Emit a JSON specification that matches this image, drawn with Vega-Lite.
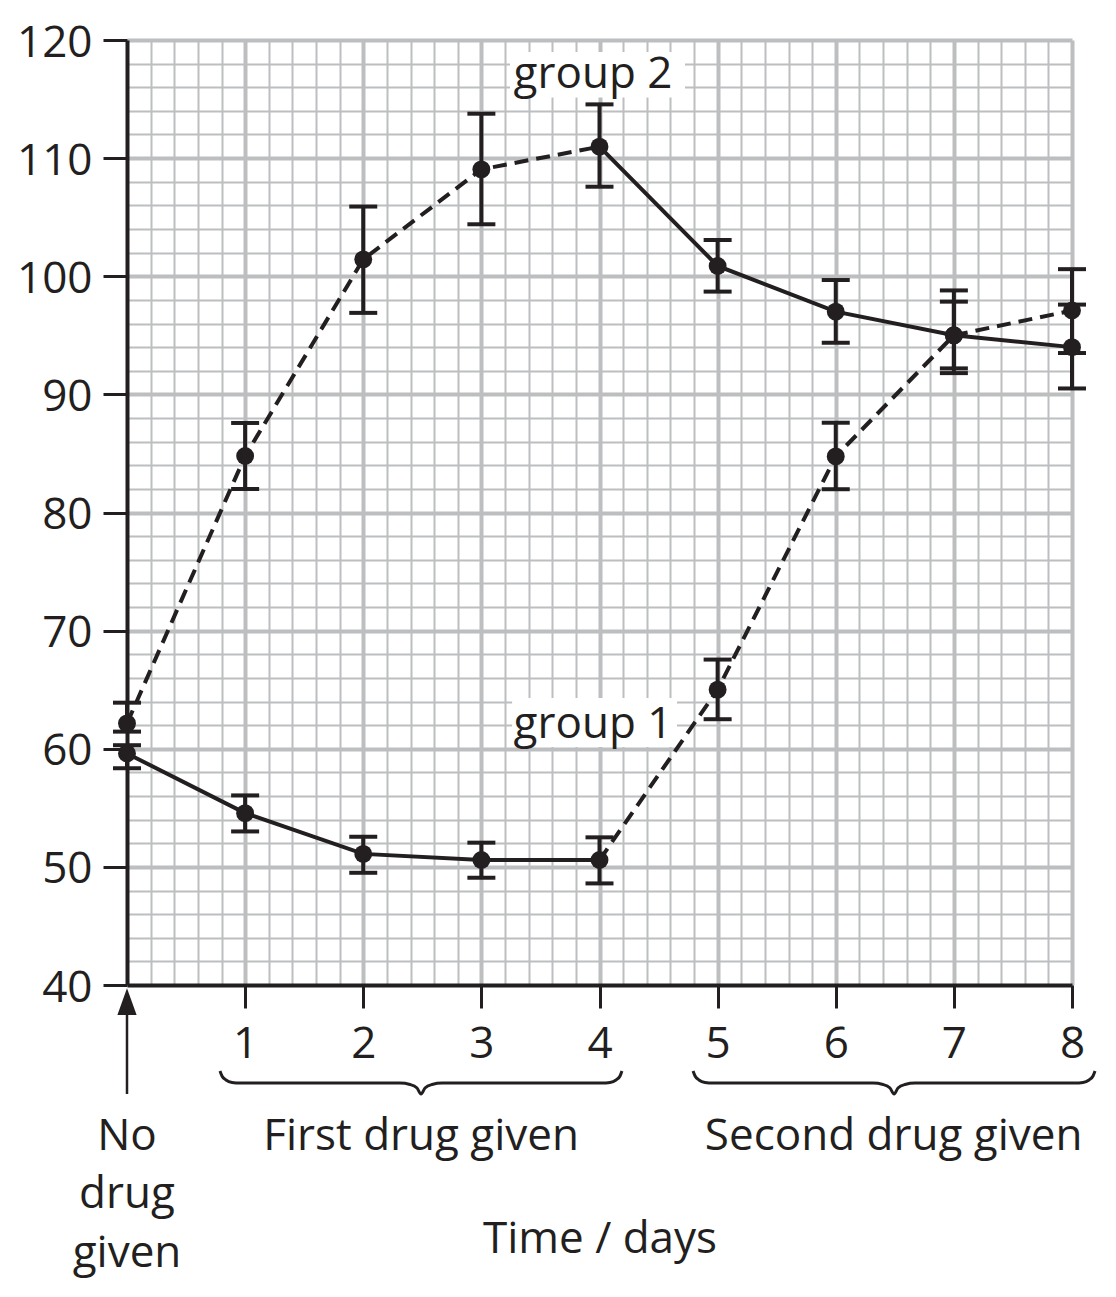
{
  "$schema": "https://vega.github.io/schema/vega-lite/v6.json",
  "width": 945,
  "height": 945,
  "autosize": "none",
  "padding": {"left": 127, "top": 40, "right": 44, "bottom": 312},
  "background": "white",
  "config": {
    "font": "Open Sans",
    "view": {"stroke": null},
    "text": {"color": "#231f20", "font": "Open Sans"},
    "axis": {
      "grid": true,
      "gridColor": "#bcbec0",
      "format": "d",
      "domainColor": "#231f20",
      "domainWidth": 4,
      "tickColor": "#231f20",
      "tickWidth": 3,
      "labelFontSize": 44,
      "labelFont": "Open Sans",
      "labelColor": "#231f20",
      "labelFlush": false,
      "labelOverlap": false,
      "labelBound": false,
      "titleFont": "Open Sans",
      "titleFontSize": 44,
      "titleFontWeight": "normal",
      "titleColor": "#231f20"
    }
  },
  "datasets": {
    "obs": [
      {"group": "group 1", "day": 0, "value": 59.6, "lo": 58.35, "hi": 60.3},
      {"group": "group 1", "day": 1, "value": 54.55, "lo": 53.0, "hi": 56.05},
      {"group": "group 1", "day": 2, "value": 51.1, "lo": 49.5, "hi": 52.55},
      {"group": "group 1", "day": 3, "value": 50.58, "lo": 49.08, "hi": 52.05},
      {"group": "group 1", "day": 4, "value": 50.58, "lo": 48.6, "hi": 52.5},
      {"group": "group 1", "day": 5, "value": 65.0, "lo": 62.5, "hi": 67.55},
      {"group": "group 1", "day": 6, "value": 84.75, "lo": 81.97, "hi": 87.6},
      {"group": "group 1", "day": 7, "value": 95.0, "lo": 91.8, "hi": 98.8},
      {"group": "group 1", "day": 8, "value": 97.1, "lo": 93.5, "hi": 100.6},
      {"group": "group 2", "day": 0, "value": 62.15, "lo": 61.45, "hi": 63.9},
      {"group": "group 2", "day": 1, "value": 84.78, "lo": 81.99, "hi": 87.58},
      {"group": "group 2", "day": 2, "value": 101.43, "lo": 96.9, "hi": 105.9},
      {"group": "group 2", "day": 3, "value": 109.05, "lo": 104.4, "hi": 113.76},
      {"group": "group 2", "day": 4, "value": 110.97, "lo": 107.58, "hi": 114.55},
      {"group": "group 2", "day": 5, "value": 100.87, "lo": 98.7, "hi": 103.07},
      {"group": "group 2", "day": 6, "value": 97.0, "lo": 94.37, "hi": 99.68},
      {"group": "group 2", "day": 7, "value": 95.0, "lo": 92.2, "hi": 97.85},
      {"group": "group 2", "day": 8, "value": 94.0, "lo": 90.5, "hi": 97.6}
    ],
    "boxes": [
      {"label": "group 2", "x1": 3.242, "x2": 4.724, "y1": 118.98, "y2": 115.14},
      {"label": "group 1", "x1": 3.26, "x2": 4.656, "y1": 64.3, "y2": 60.15}
    ],
    "groupLabels": [
      {"day": 3.945, "value": 115.91, "text": "group 2"},
      {"day": 3.945, "value": 60.88, "text": "group 1"}
    ],
    "notes": [
      {"day": 0, "value": 26.03, "text": "No"},
      {"day": 0, "value": 21.1, "text": "drug"},
      {"day": 0, "value": 16.15, "text": "given"},
      {"day": 2.49, "value": 26.03, "text": "First drug given"},
      {"day": 6.49, "value": 26.03, "text": "Second drug given"}
    ],
    "braces": [
      {"brace": "first", "day": 0.787, "value": 32.72},
      {"brace": "first", "day": 0.804, "value": 32.3},
      {"brace": "first", "day": 0.838, "value": 31.96},
      {"brace": "first", "day": 0.889, "value": 31.75},
      {"brace": "first", "day": 0.957, "value": 31.7},
      {"brace": "first", "day": 2.311, "value": 31.7},
      {"brace": "first", "day": 2.396, "value": 31.58},
      {"brace": "first", "day": 2.455, "value": 31.28},
      {"brace": "first", "day": 2.489, "value": 30.77},
      {"brace": "first", "day": 2.523, "value": 31.28},
      {"brace": "first", "day": 2.582, "value": 31.58},
      {"brace": "first", "day": 2.667, "value": 31.7},
      {"brace": "first", "day": 4.021, "value": 31.7},
      {"brace": "first", "day": 4.089, "value": 31.75},
      {"brace": "first", "day": 4.14, "value": 31.96},
      {"brace": "first", "day": 4.174, "value": 32.3},
      {"brace": "first", "day": 4.19, "value": 32.72},
      {"brace": "second", "day": 4.792, "value": 32.72},
      {"brace": "second", "day": 4.809, "value": 32.3},
      {"brace": "second", "day": 4.842, "value": 31.96},
      {"brace": "second", "day": 4.893, "value": 31.75},
      {"brace": "second", "day": 4.961, "value": 31.7},
      {"brace": "second", "day": 6.315, "value": 31.7},
      {"brace": "second", "day": 6.4, "value": 31.58},
      {"brace": "second", "day": 6.459, "value": 31.28},
      {"brace": "second", "day": 6.494, "value": 30.77},
      {"brace": "second", "day": 6.527, "value": 31.28},
      {"brace": "second", "day": 6.586, "value": 31.58},
      {"brace": "second", "day": 6.671, "value": 31.7},
      {"brace": "second", "day": 8.025, "value": 31.7},
      {"brace": "second", "day": 8.093, "value": 31.75},
      {"brace": "second", "day": 8.144, "value": 31.96},
      {"brace": "second", "day": 8.178, "value": 32.3},
      {"brace": "second", "day": 8.195, "value": 32.72}
    ],
    "arrow": [
      {"day": 0, "value": 30.77, "value2": 37.88}
    ],
    "arrowhead": [
      {"day": 0, "value": 38.59}
    ]
  },
  "layer": [
    {
      "data": {"name": "boxes"},
      "mark": {"type": "rect", "color": "white", "opacity": 1},
      "encoding": {
        "x": {"field": "x1", "type": "quantitative", "title": "Time / days", "scale": {"domain": [0, 8], "nice": false, "zero": false},
          "axis": {"title": "Time / days", "values": [0,0.2,0.4,0.6,0.8,1,1.2,1.4,1.6,1.8,2,2.2,2.4,2.6,2.8,3,3.2,3.4,3.6,3.8,4,4.2,4.4,4.6,4.8,5,5.2,5.4,5.6,5.8,6,6.2,6.4,6.6,6.8,7,7.2,7.4,7.6,7.8,8], "gridWidth": {"condition": {"test": "abs(datum.value - round(datum.value)) < 0.001", "value": 4}, "value": 2}, "gridOpacity": {"condition": {"test": "datum.value < 0.001", "value": 0}, "value": 1}, "tickSize": 23, "tickOpacity": {"condition": {"test": "datum.value > 0.5 && abs(datum.value - round(datum.value)) < 0.001", "value": 1}, "value": 0}, "labelExpr": "datum.value > 0.5 && abs(datum.value - round(datum.value)) < 0.001 ? datum.label : ''", "labelPadding": 14, "titleX": 472.5, "titleY": 267, "titleAlign": "center", "titleBaseline": "alphabetic"}},
        "x2": {"field": "x2"},
        "y": {"field": "y1", "type": "quantitative", "title": null, "scale": {"domain": [40, 120], "nice": false, "zero": false},
          "axis": {"title": null, "values": [40,42,44,46,48,50,52,54,56,58,60,62,64,66,68,70,72,74,76,78,80,82,84,86,88,90,92,94,96,98,100,102,104,106,108,110,112,114,116,118,120], "gridWidth": {"condition": {"test": "datum.value % 10 === 0", "value": 4}, "value": 2}, "gridOpacity": {"condition": {"test": "datum.value === 40", "value": 0}, "value": 1}, "tickSize": 24, "tickOpacity": {"condition": {"test": "datum.value % 10 === 0", "value": 1}, "value": 0}, "labelExpr": "datum.value % 10 === 0 ? datum.label : ''", "labelPadding": 11, "labelOffset": 3}},
        "y2": {"field": "y2"}
      }
    },
    {
      "data": {"name": "obs"},
      "transform": [{"filter": "(datum.group === 'group 1' && datum.day >= 4) || (datum.group === 'group 2' && datum.day <= 4)"}],
      "mark": {"type": "line", "color": "#231f20", "strokeWidth": 4, "strokeDash": [14, 8]},
      "encoding": {
        "x": {"field": "day", "type": "quantitative", "title": "Time / days", "scale": {"domain": [0, 8], "nice": false, "zero": false},
          "axis": {"title": "Time / days", "values": [0,0.2,0.4,0.6,0.8,1,1.2,1.4,1.6,1.8,2,2.2,2.4,2.6,2.8,3,3.2,3.4,3.6,3.8,4,4.2,4.4,4.6,4.8,5,5.2,5.4,5.6,5.8,6,6.2,6.4,6.6,6.8,7,7.2,7.4,7.6,7.8,8], "gridWidth": {"condition": {"test": "abs(datum.value - round(datum.value)) < 0.001", "value": 4}, "value": 2}, "gridOpacity": {"condition": {"test": "datum.value < 0.001", "value": 0}, "value": 1}, "tickSize": 23, "tickOpacity": {"condition": {"test": "datum.value > 0.5 && abs(datum.value - round(datum.value)) < 0.001", "value": 1}, "value": 0}, "labelExpr": "datum.value > 0.5 && abs(datum.value - round(datum.value)) < 0.001 ? datum.label : ''", "labelPadding": 14, "titleX": 472.5, "titleY": 267, "titleAlign": "center", "titleBaseline": "alphabetic"}},
        "y": {"field": "value", "type": "quantitative", "title": null, "scale": {"domain": [40, 120], "nice": false, "zero": false},
          "axis": {"title": null, "values": [40,42,44,46,48,50,52,54,56,58,60,62,64,66,68,70,72,74,76,78,80,82,84,86,88,90,92,94,96,98,100,102,104,106,108,110,112,114,116,118,120], "gridWidth": {"condition": {"test": "datum.value % 10 === 0", "value": 4}, "value": 2}, "gridOpacity": {"condition": {"test": "datum.value === 40", "value": 0}, "value": 1}, "tickSize": 24, "tickOpacity": {"condition": {"test": "datum.value % 10 === 0", "value": 1}, "value": 0}, "labelExpr": "datum.value % 10 === 0 ? datum.label : ''", "labelPadding": 11, "labelOffset": 3}},
        "detail": {"field": "group", "type": "nominal"}
      }
    },
    {
      "data": {"name": "obs"},
      "transform": [{"filter": "(datum.group === 'group 1' && datum.day <= 4) || (datum.group === 'group 2' && datum.day >= 4)"}],
      "mark": {"type": "line", "color": "#231f20", "strokeWidth": 4},
      "encoding": {
        "x": {"field": "day", "type": "quantitative", "title": "Time / days", "scale": {"domain": [0, 8], "nice": false, "zero": false},
          "axis": {"title": "Time / days", "values": [0,0.2,0.4,0.6,0.8,1,1.2,1.4,1.6,1.8,2,2.2,2.4,2.6,2.8,3,3.2,3.4,3.6,3.8,4,4.2,4.4,4.6,4.8,5,5.2,5.4,5.6,5.8,6,6.2,6.4,6.6,6.8,7,7.2,7.4,7.6,7.8,8], "gridWidth": {"condition": {"test": "abs(datum.value - round(datum.value)) < 0.001", "value": 4}, "value": 2}, "gridOpacity": {"condition": {"test": "datum.value < 0.001", "value": 0}, "value": 1}, "tickSize": 23, "tickOpacity": {"condition": {"test": "datum.value > 0.5 && abs(datum.value - round(datum.value)) < 0.001", "value": 1}, "value": 0}, "labelExpr": "datum.value > 0.5 && abs(datum.value - round(datum.value)) < 0.001 ? datum.label : ''", "labelPadding": 14, "titleX": 472.5, "titleY": 267, "titleAlign": "center", "titleBaseline": "alphabetic"}},
        "y": {"field": "value", "type": "quantitative", "title": null, "scale": {"domain": [40, 120], "nice": false, "zero": false},
          "axis": {"title": null, "values": [40,42,44,46,48,50,52,54,56,58,60,62,64,66,68,70,72,74,76,78,80,82,84,86,88,90,92,94,96,98,100,102,104,106,108,110,112,114,116,118,120], "gridWidth": {"condition": {"test": "datum.value % 10 === 0", "value": 4}, "value": 2}, "gridOpacity": {"condition": {"test": "datum.value === 40", "value": 0}, "value": 1}, "tickSize": 24, "tickOpacity": {"condition": {"test": "datum.value % 10 === 0", "value": 1}, "value": 0}, "labelExpr": "datum.value % 10 === 0 ? datum.label : ''", "labelPadding": 11, "labelOffset": 3}},
        "detail": {"field": "group", "type": "nominal"}
      }
    },
    {
      "data": {"name": "obs"},
      "mark": {"type": "rule", "color": "#231f20", "strokeWidth": 4},
      "encoding": {
        "x": {"field": "day", "type": "quantitative", "title": "Time / days", "scale": {"domain": [0, 8], "nice": false, "zero": false},
          "axis": {"title": "Time / days", "values": [0,0.2,0.4,0.6,0.8,1,1.2,1.4,1.6,1.8,2,2.2,2.4,2.6,2.8,3,3.2,3.4,3.6,3.8,4,4.2,4.4,4.6,4.8,5,5.2,5.4,5.6,5.8,6,6.2,6.4,6.6,6.8,7,7.2,7.4,7.6,7.8,8], "gridWidth": {"condition": {"test": "abs(datum.value - round(datum.value)) < 0.001", "value": 4}, "value": 2}, "gridOpacity": {"condition": {"test": "datum.value < 0.001", "value": 0}, "value": 1}, "tickSize": 23, "tickOpacity": {"condition": {"test": "datum.value > 0.5 && abs(datum.value - round(datum.value)) < 0.001", "value": 1}, "value": 0}, "labelExpr": "datum.value > 0.5 && abs(datum.value - round(datum.value)) < 0.001 ? datum.label : ''", "labelPadding": 14, "titleX": 472.5, "titleY": 267, "titleAlign": "center", "titleBaseline": "alphabetic"}},
        "y": {"field": "lo", "type": "quantitative", "title": null, "scale": {"domain": [40, 120], "nice": false, "zero": false},
          "axis": {"title": null, "values": [40,42,44,46,48,50,52,54,56,58,60,62,64,66,68,70,72,74,76,78,80,82,84,86,88,90,92,94,96,98,100,102,104,106,108,110,112,114,116,118,120], "gridWidth": {"condition": {"test": "datum.value % 10 === 0", "value": 4}, "value": 2}, "gridOpacity": {"condition": {"test": "datum.value === 40", "value": 0}, "value": 1}, "tickSize": 24, "tickOpacity": {"condition": {"test": "datum.value % 10 === 0", "value": 1}, "value": 0}, "labelExpr": "datum.value % 10 === 0 ? datum.label : ''", "labelPadding": 11, "labelOffset": 3}},
        "y2": {"field": "hi"}
      }
    },
    {
      "data": {"name": "obs"},
      "transform": [{"fold": ["lo", "hi"], "as": ["end", "cap"]}],
      "mark": {"type": "point", "shape": "stroke", "filled": false, "color": "#231f20", "strokeWidth": 4, "size": 784, "opacity": 1},
      "encoding": {
        "x": {"field": "day", "type": "quantitative", "title": "Time / days", "scale": {"domain": [0, 8], "nice": false, "zero": false},
          "axis": {"title": "Time / days", "values": [0,0.2,0.4,0.6,0.8,1,1.2,1.4,1.6,1.8,2,2.2,2.4,2.6,2.8,3,3.2,3.4,3.6,3.8,4,4.2,4.4,4.6,4.8,5,5.2,5.4,5.6,5.8,6,6.2,6.4,6.6,6.8,7,7.2,7.4,7.6,7.8,8], "gridWidth": {"condition": {"test": "abs(datum.value - round(datum.value)) < 0.001", "value": 4}, "value": 2}, "gridOpacity": {"condition": {"test": "datum.value < 0.001", "value": 0}, "value": 1}, "tickSize": 23, "tickOpacity": {"condition": {"test": "datum.value > 0.5 && abs(datum.value - round(datum.value)) < 0.001", "value": 1}, "value": 0}, "labelExpr": "datum.value > 0.5 && abs(datum.value - round(datum.value)) < 0.001 ? datum.label : ''", "labelPadding": 14, "titleX": 472.5, "titleY": 267, "titleAlign": "center", "titleBaseline": "alphabetic"}},
        "y": {"field": "cap", "type": "quantitative", "title": null, "scale": {"domain": [40, 120], "nice": false, "zero": false},
          "axis": {"title": null, "values": [40,42,44,46,48,50,52,54,56,58,60,62,64,66,68,70,72,74,76,78,80,82,84,86,88,90,92,94,96,98,100,102,104,106,108,110,112,114,116,118,120], "gridWidth": {"condition": {"test": "datum.value % 10 === 0", "value": 4}, "value": 2}, "gridOpacity": {"condition": {"test": "datum.value === 40", "value": 0}, "value": 1}, "tickSize": 24, "tickOpacity": {"condition": {"test": "datum.value % 10 === 0", "value": 1}, "value": 0}, "labelExpr": "datum.value % 10 === 0 ? datum.label : ''", "labelPadding": 11, "labelOffset": 3}}
      }
    },
    {
      "data": {"name": "obs"},
      "mark": {"type": "circle", "color": "#231f20", "size": 320, "opacity": 1},
      "encoding": {
        "x": {"field": "day", "type": "quantitative", "title": "Time / days", "scale": {"domain": [0, 8], "nice": false, "zero": false},
          "axis": {"title": "Time / days", "values": [0,0.2,0.4,0.6,0.8,1,1.2,1.4,1.6,1.8,2,2.2,2.4,2.6,2.8,3,3.2,3.4,3.6,3.8,4,4.2,4.4,4.6,4.8,5,5.2,5.4,5.6,5.8,6,6.2,6.4,6.6,6.8,7,7.2,7.4,7.6,7.8,8], "gridWidth": {"condition": {"test": "abs(datum.value - round(datum.value)) < 0.001", "value": 4}, "value": 2}, "gridOpacity": {"condition": {"test": "datum.value < 0.001", "value": 0}, "value": 1}, "tickSize": 23, "tickOpacity": {"condition": {"test": "datum.value > 0.5 && abs(datum.value - round(datum.value)) < 0.001", "value": 1}, "value": 0}, "labelExpr": "datum.value > 0.5 && abs(datum.value - round(datum.value)) < 0.001 ? datum.label : ''", "labelPadding": 14, "titleX": 472.5, "titleY": 267, "titleAlign": "center", "titleBaseline": "alphabetic"}},
        "y": {"field": "value", "type": "quantitative", "title": null, "scale": {"domain": [40, 120], "nice": false, "zero": false},
          "axis": {"title": null, "values": [40,42,44,46,48,50,52,54,56,58,60,62,64,66,68,70,72,74,76,78,80,82,84,86,88,90,92,94,96,98,100,102,104,106,108,110,112,114,116,118,120], "gridWidth": {"condition": {"test": "datum.value % 10 === 0", "value": 4}, "value": 2}, "gridOpacity": {"condition": {"test": "datum.value === 40", "value": 0}, "value": 1}, "tickSize": 24, "tickOpacity": {"condition": {"test": "datum.value % 10 === 0", "value": 1}, "value": 0}, "labelExpr": "datum.value % 10 === 0 ? datum.label : ''", "labelPadding": 11, "labelOffset": 3}}
      }
    },
    {
      "data": {"name": "groupLabels"},
      "mark": {"type": "text", "fontSize": 44, "align": "center", "baseline": "alphabetic", "color": "#231f20"},
      "encoding": {
        "x": {"field": "day", "type": "quantitative", "title": "Time / days", "scale": {"domain": [0, 8], "nice": false, "zero": false},
          "axis": {"title": "Time / days", "values": [0,0.2,0.4,0.6,0.8,1,1.2,1.4,1.6,1.8,2,2.2,2.4,2.6,2.8,3,3.2,3.4,3.6,3.8,4,4.2,4.4,4.6,4.8,5,5.2,5.4,5.6,5.8,6,6.2,6.4,6.6,6.8,7,7.2,7.4,7.6,7.8,8], "gridWidth": {"condition": {"test": "abs(datum.value - round(datum.value)) < 0.001", "value": 4}, "value": 2}, "gridOpacity": {"condition": {"test": "datum.value < 0.001", "value": 0}, "value": 1}, "tickSize": 23, "tickOpacity": {"condition": {"test": "datum.value > 0.5 && abs(datum.value - round(datum.value)) < 0.001", "value": 1}, "value": 0}, "labelExpr": "datum.value > 0.5 && abs(datum.value - round(datum.value)) < 0.001 ? datum.label : ''", "labelPadding": 14, "titleX": 472.5, "titleY": 267, "titleAlign": "center", "titleBaseline": "alphabetic"}},
        "y": {"field": "value", "type": "quantitative", "title": null, "scale": {"domain": [40, 120], "nice": false, "zero": false},
          "axis": {"title": null, "values": [40,42,44,46,48,50,52,54,56,58,60,62,64,66,68,70,72,74,76,78,80,82,84,86,88,90,92,94,96,98,100,102,104,106,108,110,112,114,116,118,120], "gridWidth": {"condition": {"test": "datum.value % 10 === 0", "value": 4}, "value": 2}, "gridOpacity": {"condition": {"test": "datum.value === 40", "value": 0}, "value": 1}, "tickSize": 24, "tickOpacity": {"condition": {"test": "datum.value % 10 === 0", "value": 1}, "value": 0}, "labelExpr": "datum.value % 10 === 0 ? datum.label : ''", "labelPadding": 11, "labelOffset": 3}},
        "text": {"field": "text", "type": "nominal"}
      }
    },
    {
      "data": {"name": "notes"},
      "mark": {"type": "text", "fontSize": 44, "align": "center", "baseline": "alphabetic", "color": "#231f20"},
      "encoding": {
        "x": {"field": "day", "type": "quantitative", "title": "Time / days", "scale": {"domain": [0, 8], "nice": false, "zero": false},
          "axis": {"title": "Time / days", "values": [0,0.2,0.4,0.6,0.8,1,1.2,1.4,1.6,1.8,2,2.2,2.4,2.6,2.8,3,3.2,3.4,3.6,3.8,4,4.2,4.4,4.6,4.8,5,5.2,5.4,5.6,5.8,6,6.2,6.4,6.6,6.8,7,7.2,7.4,7.6,7.8,8], "gridWidth": {"condition": {"test": "abs(datum.value - round(datum.value)) < 0.001", "value": 4}, "value": 2}, "gridOpacity": {"condition": {"test": "datum.value < 0.001", "value": 0}, "value": 1}, "tickSize": 23, "tickOpacity": {"condition": {"test": "datum.value > 0.5 && abs(datum.value - round(datum.value)) < 0.001", "value": 1}, "value": 0}, "labelExpr": "datum.value > 0.5 && abs(datum.value - round(datum.value)) < 0.001 ? datum.label : ''", "labelPadding": 14, "titleX": 472.5, "titleY": 267, "titleAlign": "center", "titleBaseline": "alphabetic"}},
        "y": {"field": "value", "type": "quantitative", "title": null, "scale": {"domain": [40, 120], "nice": false, "zero": false},
          "axis": {"title": null, "values": [40,42,44,46,48,50,52,54,56,58,60,62,64,66,68,70,72,74,76,78,80,82,84,86,88,90,92,94,96,98,100,102,104,106,108,110,112,114,116,118,120], "gridWidth": {"condition": {"test": "datum.value % 10 === 0", "value": 4}, "value": 2}, "gridOpacity": {"condition": {"test": "datum.value === 40", "value": 0}, "value": 1}, "tickSize": 24, "tickOpacity": {"condition": {"test": "datum.value % 10 === 0", "value": 1}, "value": 0}, "labelExpr": "datum.value % 10 === 0 ? datum.label : ''", "labelPadding": 11, "labelOffset": 3}},
        "text": {"field": "text", "type": "nominal"}
      }
    },
    {
      "data": {"name": "braces"},
      "mark": {"type": "line", "color": "#231f20", "strokeWidth": 3, "interpolate": "monotone"},
      "encoding": {
        "x": {"field": "day", "type": "quantitative", "title": "Time / days", "scale": {"domain": [0, 8], "nice": false, "zero": false},
          "axis": {"title": "Time / days", "values": [0,0.2,0.4,0.6,0.8,1,1.2,1.4,1.6,1.8,2,2.2,2.4,2.6,2.8,3,3.2,3.4,3.6,3.8,4,4.2,4.4,4.6,4.8,5,5.2,5.4,5.6,5.8,6,6.2,6.4,6.6,6.8,7,7.2,7.4,7.6,7.8,8], "gridWidth": {"condition": {"test": "abs(datum.value - round(datum.value)) < 0.001", "value": 4}, "value": 2}, "gridOpacity": {"condition": {"test": "datum.value < 0.001", "value": 0}, "value": 1}, "tickSize": 23, "tickOpacity": {"condition": {"test": "datum.value > 0.5 && abs(datum.value - round(datum.value)) < 0.001", "value": 1}, "value": 0}, "labelExpr": "datum.value > 0.5 && abs(datum.value - round(datum.value)) < 0.001 ? datum.label : ''", "labelPadding": 14, "titleX": 472.5, "titleY": 267, "titleAlign": "center", "titleBaseline": "alphabetic"}},
        "y": {"field": "value", "type": "quantitative", "title": null, "scale": {"domain": [40, 120], "nice": false, "zero": false},
          "axis": {"title": null, "values": [40,42,44,46,48,50,52,54,56,58,60,62,64,66,68,70,72,74,76,78,80,82,84,86,88,90,92,94,96,98,100,102,104,106,108,110,112,114,116,118,120], "gridWidth": {"condition": {"test": "datum.value % 10 === 0", "value": 4}, "value": 2}, "gridOpacity": {"condition": {"test": "datum.value === 40", "value": 0}, "value": 1}, "tickSize": 24, "tickOpacity": {"condition": {"test": "datum.value % 10 === 0", "value": 1}, "value": 0}, "labelExpr": "datum.value % 10 === 0 ? datum.label : ''", "labelPadding": 11, "labelOffset": 3}},
        "detail": {"field": "brace", "type": "nominal"}
      }
    },
    {
      "data": {"name": "arrow"},
      "mark": {"type": "rule", "color": "#231f20", "strokeWidth": 2.5},
      "encoding": {
        "x": {"field": "day", "type": "quantitative", "title": "Time / days", "scale": {"domain": [0, 8], "nice": false, "zero": false},
          "axis": {"title": "Time / days", "values": [0,0.2,0.4,0.6,0.8,1,1.2,1.4,1.6,1.8,2,2.2,2.4,2.6,2.8,3,3.2,3.4,3.6,3.8,4,4.2,4.4,4.6,4.8,5,5.2,5.4,5.6,5.8,6,6.2,6.4,6.6,6.8,7,7.2,7.4,7.6,7.8,8], "gridWidth": {"condition": {"test": "abs(datum.value - round(datum.value)) < 0.001", "value": 4}, "value": 2}, "gridOpacity": {"condition": {"test": "datum.value < 0.001", "value": 0}, "value": 1}, "tickSize": 23, "tickOpacity": {"condition": {"test": "datum.value > 0.5 && abs(datum.value - round(datum.value)) < 0.001", "value": 1}, "value": 0}, "labelExpr": "datum.value > 0.5 && abs(datum.value - round(datum.value)) < 0.001 ? datum.label : ''", "labelPadding": 14, "titleX": 472.5, "titleY": 267, "titleAlign": "center", "titleBaseline": "alphabetic"}},
        "y": {"field": "value", "type": "quantitative", "title": null, "scale": {"domain": [40, 120], "nice": false, "zero": false},
          "axis": {"title": null, "values": [40,42,44,46,48,50,52,54,56,58,60,62,64,66,68,70,72,74,76,78,80,82,84,86,88,90,92,94,96,98,100,102,104,106,108,110,112,114,116,118,120], "gridWidth": {"condition": {"test": "datum.value % 10 === 0", "value": 4}, "value": 2}, "gridOpacity": {"condition": {"test": "datum.value === 40", "value": 0}, "value": 1}, "tickSize": 24, "tickOpacity": {"condition": {"test": "datum.value % 10 === 0", "value": 1}, "value": 0}, "labelExpr": "datum.value % 10 === 0 ? datum.label : ''", "labelPadding": 11, "labelOffset": 3}},
        "y2": {"field": "value2"}
      }
    },
    {
      "data": {"name": "arrowhead"},
      "mark": {"type": "point", "shape": "M0,-1L-0.72,1L0.72,1Z", "filled": true, "color": "#231f20", "size": 713, "opacity": 1},
      "encoding": {
        "x": {"field": "day", "type": "quantitative", "title": "Time / days", "scale": {"domain": [0, 8], "nice": false, "zero": false},
          "axis": {"title": "Time / days", "values": [0,0.2,0.4,0.6,0.8,1,1.2,1.4,1.6,1.8,2,2.2,2.4,2.6,2.8,3,3.2,3.4,3.6,3.8,4,4.2,4.4,4.6,4.8,5,5.2,5.4,5.6,5.8,6,6.2,6.4,6.6,6.8,7,7.2,7.4,7.6,7.8,8], "gridWidth": {"condition": {"test": "abs(datum.value - round(datum.value)) < 0.001", "value": 4}, "value": 2}, "gridOpacity": {"condition": {"test": "datum.value < 0.001", "value": 0}, "value": 1}, "tickSize": 23, "tickOpacity": {"condition": {"test": "datum.value > 0.5 && abs(datum.value - round(datum.value)) < 0.001", "value": 1}, "value": 0}, "labelExpr": "datum.value > 0.5 && abs(datum.value - round(datum.value)) < 0.001 ? datum.label : ''", "labelPadding": 14, "titleX": 472.5, "titleY": 267, "titleAlign": "center", "titleBaseline": "alphabetic"}},
        "y": {"field": "value", "type": "quantitative", "title": null, "scale": {"domain": [40, 120], "nice": false, "zero": false},
          "axis": {"title": null, "values": [40,42,44,46,48,50,52,54,56,58,60,62,64,66,68,70,72,74,76,78,80,82,84,86,88,90,92,94,96,98,100,102,104,106,108,110,112,114,116,118,120], "gridWidth": {"condition": {"test": "datum.value % 10 === 0", "value": 4}, "value": 2}, "gridOpacity": {"condition": {"test": "datum.value === 40", "value": 0}, "value": 1}, "tickSize": 24, "tickOpacity": {"condition": {"test": "datum.value % 10 === 0", "value": 1}, "value": 0}, "labelExpr": "datum.value % 10 === 0 ? datum.label : ''", "labelPadding": 11, "labelOffset": 3}}
      }
    }
  ]
}
